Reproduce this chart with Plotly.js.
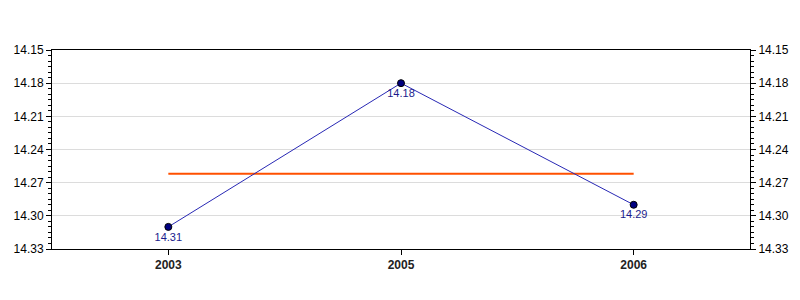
<!DOCTYPE html>
<html>
<head>
<meta charset="utf-8">
<script src="https://cdn.plot.ly/plotly-3.0.1.min.js"></script>
<style>html,body{margin:0;padding:0;background:#fff;}#chart{width:800px;height:300px;}</style>
</head>
<body>
<div id="chart"></div>
<script>
const years = ['2003', '2005', '2006'];
const values = [14.31, 14.18, 14.29];
const valueLabels = ['14.31', '14.18', '14.29'];
const averageValue = 14.262;
const yTickVals = [14.15, 14.18, 14.21, 14.24, 14.27, 14.30, 14.33];
const yTickText = ['14.15', '14.18', '14.21', '14.24', '14.27', '14.30', '14.33'];
const yRange = [14.33, 14.15];

const avgLine = {
  x: years, y: years.map(() => averageValue), type: 'scatter', mode: 'lines',
  line: {color: '#ff5000', width: 2}, hoverinfo: 'skip', showlegend: false
};
const series = {
  x: years, y: values, type: 'scatter', mode: 'lines+markers+text',
  text: valueLabels, textposition: 'bottom center',
  textfont: {family: 'Liberation Sans, Arial, sans-serif', size: 11, color: '#1a1a8c'},
  line: {color: '#2828b4', width: 1},
  marker: {color: '#000080', size: 7, line: {color: '#000000', width: 1}},
  showlegend: false
};
const ghost = {
  x: years, y: values, yaxis: 'y2', type: 'scatter', mode: 'markers',
  marker: {opacity: 0}, hoverinfo: 'skip', showlegend: false
};

const yCommon = {
  range: yRange, autorange: false,
  tickmode: 'array', tickvals: yTickVals, ticktext: yTickText,
  ticks: 'outside', ticklen: 5, tickcolor: '#000', tickwidth: 1,
  minor: {dtick: 0.005, ticks: 'outside', ticklen: 3, tickcolor: '#000', showgrid: false},
  showline: true, linecolor: '#000', linewidth: 1,
  tickfont: {family: 'Liberation Sans, Arial, sans-serif', size: 12, color: '#000'},
  zeroline: false
};

const layout = {
  width: 800, height: 300,
  margin: {l: 52, r: 50, t: 50, b: 51},
  paper_bgcolor: '#fff', plot_bgcolor: '#fff',
  xaxis: {
    type: 'category', range: [-0.5, 2.5], autorange: false,
    ticks: 'outside', ticklen: 5, tickcolor: '#000',
    showline: true, linecolor: '#000', linewidth: 1, mirror: true,
    showgrid: false, zeroline: false,
    tickfont: {family: 'Liberation Sans, Arial, sans-serif', size: 12, color: '#222', weight: 'bold'}
  },
  yaxis: Object.assign({}, yCommon, {showgrid: true, gridcolor: '#dcdcdc', gridwidth: 1}),
  yaxis2: Object.assign({}, yCommon, {overlaying: 'y', side: 'right', showgrid: false}),
  showlegend: false
};

Plotly.newPlot('chart', [avgLine, series, ghost], layout, {staticPlot: true, displayModeBar: false});
</script>
</body>
</html>
